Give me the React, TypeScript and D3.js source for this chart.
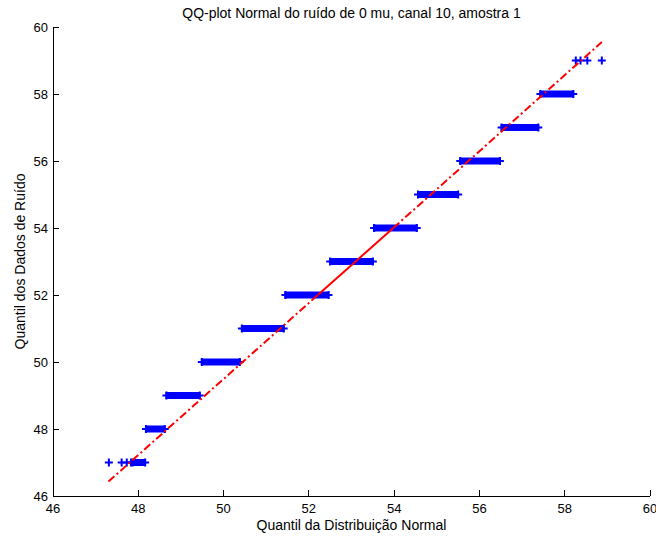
import React from "react";
import * as d3 from "d3";

const W = 656;
const H = 537;

const title = "QQ-plot Normal do ruído de 0 mu, canal 10, amostra 1";
const xLabel = "Quantil da Distribuição Normal";
const yLabel = "Quantil dos Dados de Ruído";

const xTicks = [46, 48, 50, 52, 54, 56, 58, 60];
const yTicks = [46, 48, 50, 52, 54, 56, 58, 60];

// Dense runs of sample quantiles: data value, first and last theoretical quantile
const runLevels = [47, 48, 49, 50, 51, 52, 53, 54, 55, 56, 57, 58];
const runStart = [47.87, 48.18, 48.66, 49.49, 50.43, 51.45, 52.5, 53.53, 54.56, 55.55, 56.52, 57.43];
const runEnd = [48.16, 48.62, 49.44, 50.38, 51.41, 52.46, 53.5, 54.53, 55.5, 56.48, 57.38, 58.2];

// Isolated points in the tails
const tailX = [47.31, 47.61, 47.73, 47.83, 58.26, 58.37, 58.53, 58.87];
const tailY = [47, 47, 47, 47, 59, 59, 59, 59];

// Reference line (quartile fit): extrapolated ends and quartile points
const refX = [47.3, 52.21, 53.98, 58.87];
const refY = [46.43, 52, 54, 59.55];

const FONT = "'Liberation Sans', Arial, Helvetica, sans-serif";

export default function App() {
  const left = 53;
  const right = 650;
  const top = 27;
  const bottom = 496;
  const x = d3.scaleLinear().domain([46, 60]).range([left, right]);
  const y = d3.scaleLinear().domain([46, 60]).range([bottom, top]);

  const line = d3
    .line<number>()
    .x((i) => x(refX[i]))
    .y((i) => y(refY[i]));

  const plus = (cx: number, cy: number, k: string) => (
    <path
      key={k}
      d={`M${cx - 4},${cy}H${cx + 4}M${cx},${cy - 4}V${cy + 4}`}
      stroke="#0000ff"
      strokeWidth={2}
      fill="none"
    />
  );

  return (
    <svg
      width={W}
      height={H}
      style={{ position: "fixed", left: 0, top: 0, background: "#fff" }}
      fontFamily={FONT}
    >
      <rect width={W} height={H} fill="#fff" />
      {/* axes */}
      <g stroke="#000" strokeWidth={1} fill="none" shapeRendering="crispEdges">
        <path d={`M${left},${top}V${bottom}H${right}`} />
        {xTicks.map((t) => (
          <path key={"xt" + t} d={`M${x(t)},${bottom}V${bottom - 6}`} />
        ))}
        {yTicks.map((t) => (
          <path key={"yt" + t} d={`M${left},${y(t)}H${left + 6}`} />
        ))}
      </g>
      <g fontSize={13} fill="#000">
        {xTicks.map((t) => (
          <text key={"xl" + t} x={x(t)} y={bottom + 17} textAnchor="middle">
            {t}
          </text>
        ))}
        {yTicks.map((t) => (
          <text key={"yl" + t} x={left - 5} y={y(t) + 5} textAnchor="end">
            {t}
          </text>
        ))}
      </g>
      <text x={(left + right) / 2} y={18} textAnchor="middle" fontSize={14}>
        {title}
      </text>
      <text x={(left + right) / 2} y={530} textAnchor="middle" fontSize={14}>
        {xLabel}
      </text>
      <text
        transform={`translate(25,${(top + bottom) / 2}) rotate(-90)`}
        textAnchor="middle"
        fontSize={14}
      >
        {yLabel}
      </text>

      {/* data */}
      <g>
        {runLevels.map((lv, i) => (
          <g key={"run" + lv}>
            <rect
              x={x(runStart[i]) - 1}
              y={y(lv) - 3.5}
              width={x(runEnd[i]) - x(runStart[i]) + 2}
              height={7}
              fill="#0000ff"
            />
            {plus(x(runStart[i]), y(lv), "s")}
            {plus(x(runEnd[i]), y(lv), "e")}
          </g>
        ))}
        {tailX.map((v, i) => plus(x(v), y(tailY[i]), "t" + i))}
      </g>

      {/* reference line */}
      <g stroke="#ff0000" strokeWidth={2} fill="none">
        <path d={line([0, 1]) || ""} strokeDasharray="8,3,2,3" />
        <path d={line([1, 2]) || ""} />
        <path d={line([2, 3]) || ""} strokeDasharray="8,3,2,3" />
      </g>
    </svg>
  );
}
